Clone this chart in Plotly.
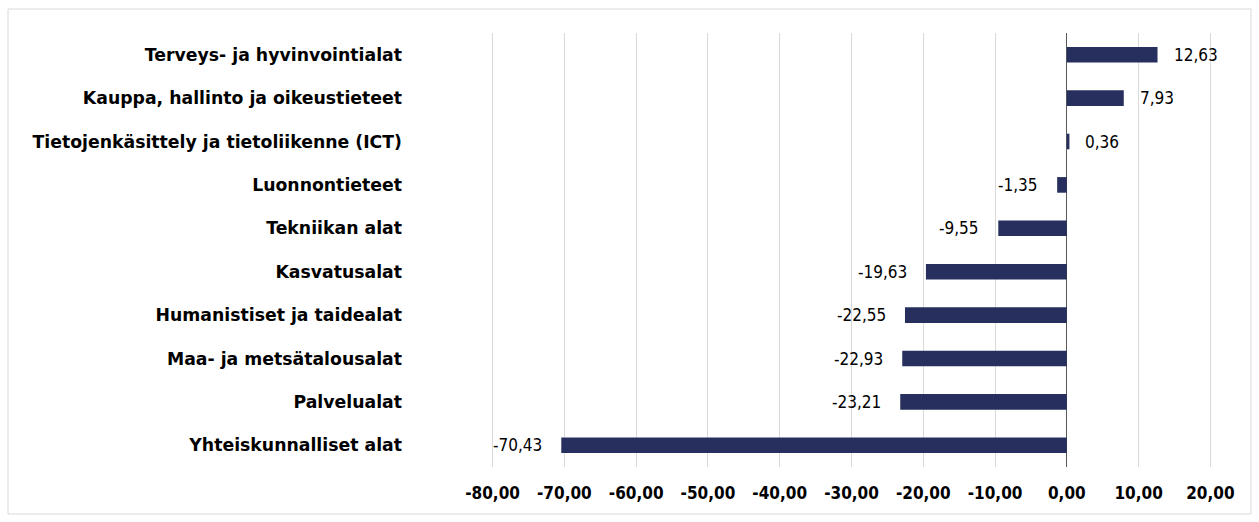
import plotly.graph_objects as go

# Alan muutos, prosenttia
categories = [
    "Terveys- ja hyvinvointialat",
    "Kauppa, hallinto ja oikeustieteet",
    "Tietojenkäsittely ja tietoliikenne (ICT)",
    "Luonnontieteet",
    "Tekniikan alat",
    "Kasvatusalat",
    "Humanistiset ja taidealat",
    "Maa- ja metsätalousalat",
    "Palvelualat",
    "Yhteiskunnalliset alat",
]
values = [12.63, 7.93, 0.36, -1.35, -9.55, -19.63, -22.55, -22.93, -23.21, -70.43]

tick_values = [-80, -70, -60, -50, -40, -30, -20, -10, 0, 10, 20]
tick_labels = ["-80,00", "-70,00", "-60,00", "-50,00", "-40,00", "-30,00",
               "-20,00", "-10,00", "0,00", "10,00", "20,00"]
value_labels = [f"{v:.2f}".replace(".", ",") for v in values]

BAR = "#262f5e"

fig = go.Figure(go.Bar(
    x=values,
    y=categories,
    orientation="h",
    marker=dict(color=BAR, line=dict(width=0)),
))

# value labels placed just beyond each bar end
for cat, v, lab in zip(categories, values, value_labels):
    fig.add_annotation(
        x=v, y=cat, text=lab, showarrow=False,
        xanchor="left" if v >= 0 else "right",
        xshift=14 if v >= 0 else -17,
        font=dict(family="DejaVu Sans Condensed", size=17, color="#000000"),
    )

W, H = 1259, 522
L, R, T, B = 489, 45, 33, 55
pw, ph = W - L - R, H - T - B

def px_x(p):
    return (p - L) / pw

def px_y(p):
    return 1 - (p - T) / ph

fig.update_layout(
    width=W, height=H,
    margin=dict(l=L, r=R, t=T, b=B, pad=0),
    paper_bgcolor="white",
    plot_bgcolor="white",
    showlegend=False,
    bargap=0.64,
    xaxis=dict(
        range=[-80.5, 20.5],
        tickvals=tick_values,
        ticktext=tick_labels,
        showgrid=True,
        gridcolor="#d9d9d9",
        gridwidth=1,
        zeroline=True,
        zerolinecolor="#595959",
        zerolinewidth=1,
        showline=False,
        ticks="",
        ticklabelstandoff=14,
        tickfont=dict(family="DejaVu Sans Condensed", size=17, color="#000000", weight="bold"),
    ),
    yaxis=dict(
        autorange="reversed",
        showgrid=False,
        zeroline=False,
        showline=False,
        ticks="",
        ticklabelstandoff=86,
        tickfont=dict(family="DejaVu Sans", size=17.3, color="#000000", weight="bold"),
    ),
    shapes=[dict(
        type="rect", xref="paper", yref="paper",
        x0=px_x(8), x1=px_x(1251), y0=px_y(514), y1=px_y(9),
        line=dict(color="#d9d9d9", width=1), fillcolor="rgba(0,0,0,0)", layer="below",
    )],
)

fig.write_html("out.html")
